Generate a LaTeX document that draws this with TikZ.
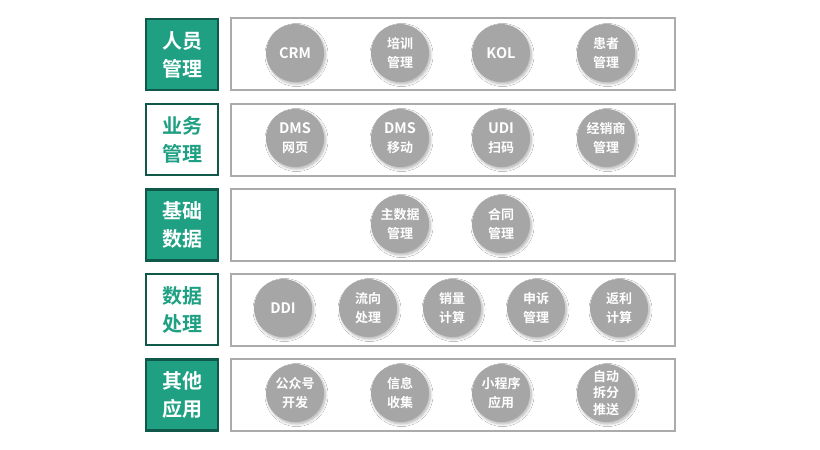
\documentclass[tikz,border=0pt]{standalone}
\usepackage{fontspec}
\setmainfont{Noto Sans CJK SC}[BoldFont={Noto Sans CJK SC Bold}]
\usetikzlibrary{shadows,shadows.blur}
\definecolor{teal1}{HTML}{1FA083}
\definecolor{dkgreen}{HTML}{10584A}
\definecolor{circgray}{HTML}{A6A6A6}
\definecolor{boxgray}{HTML}{ABABAB}
\tikzset{
  catfill/.style={draw=dkgreen, line width=2.4pt, fill=teal1, text=white, minimum width=72pt, minimum height=71pt, font=\bfseries\fontsize{20}{28}\selectfont, align=center, inner sep=0pt},
  catopen/.style={draw=dkgreen, line width=2.4pt, fill=white, text=teal1, minimum width=72pt, minimum height=71pt, font=\bfseries\fontsize{20}{28}\selectfont, align=center, inner sep=0pt},
  panel/.style={draw=boxgray, line width=2pt, fill=white, minimum width=444pt, minimum height=72pt, inner sep=0pt},
  item/.style={circle, fill=circgray, minimum size=58pt, inner sep=0pt, text=white, align=center, font=\bfseries\fontsize{13}{18.5}\selectfont, blur shadow={shadow xshift=1.5pt, shadow yshift=-2pt, shadow blur steps=8, shadow opacity=30, shadow blur radius=2.5pt}},
  itemlat/.style={item, font=\bfseries\fontsize{14.5}{18}\selectfont},
}
\begin{document}
\begin{tikzpicture}[x=1pt,y=-1pt]
\useasboundingbox (0,0) rectangle (820,450);
% row 1
\node[catfill] (c1) at (182,54.5) {人员\\管理};
\node[panel] (p1) at (453,54) {};
\node[itemlat] (a1) at (295,53) {CRM};
\node[item] (a2) at (400,53) {培训\\管理};
\node[itemlat] (a3) at (501,53) {KOL};
\node[item] (a4) at (606,53) {患者\\管理};
% row 2
\node[catopen] (c2) at (182,139.5) {业务\\管理};
\node[panel] (p2) at (453,139.5) {};
\node[item] (b1) at (295,138) {{\fontsize{14.5}{18}\selectfont DMS}\\网页};
\node[item] (b2) at (400,138) {{\fontsize{14.5}{18}\selectfont DMS}\\移动};
\node[item] (b3) at (501,138) {{\fontsize{14.5}{18}\selectfont UDI}\\扫码};
\node[item] (b4) at (606,138) {经销商\\管理};
% row 3
\node[catfill] (c3) at (182,225) {基础\\数据};
\node[panel] (p3) at (453,225) {};
\node[item] (d1) at (400,224) {主数据\\管理};
\node[item] (d2) at (501,224) {合同\\管理};
% row 4
\node[catopen] (c4) at (182,309.5) {数据\\处理};
\node[panel] (p4) at (453,309.5) {};
\node[itemlat] (e1) at (283,308) {DDI};
\node[item] (e2) at (368,308) {流向\\处理};
\node[item] (e3) at (452,308) {销量\\计算};
\node[item] (e4) at (536,308) {申诉\\管理};
\node[item] (e5) at (619,308) {返利\\计算};
% row 5
\node[catfill] (c5) at (182,395) {其他\\应用};
\node[panel] (p5) at (453,395) {};
\node[item] (f1) at (295,393) {公众号\\开发};
\node[item] (f2) at (400,393) {信息\\收集};
\node[item] (f3) at (501,393) {小程序\\应用};
\node[item, font=\bfseries\fontsize{13}{16.5}\selectfont] (f4) at (606,393) {自动\\拆分\\推送};
\end{tikzpicture}
\end{document}
